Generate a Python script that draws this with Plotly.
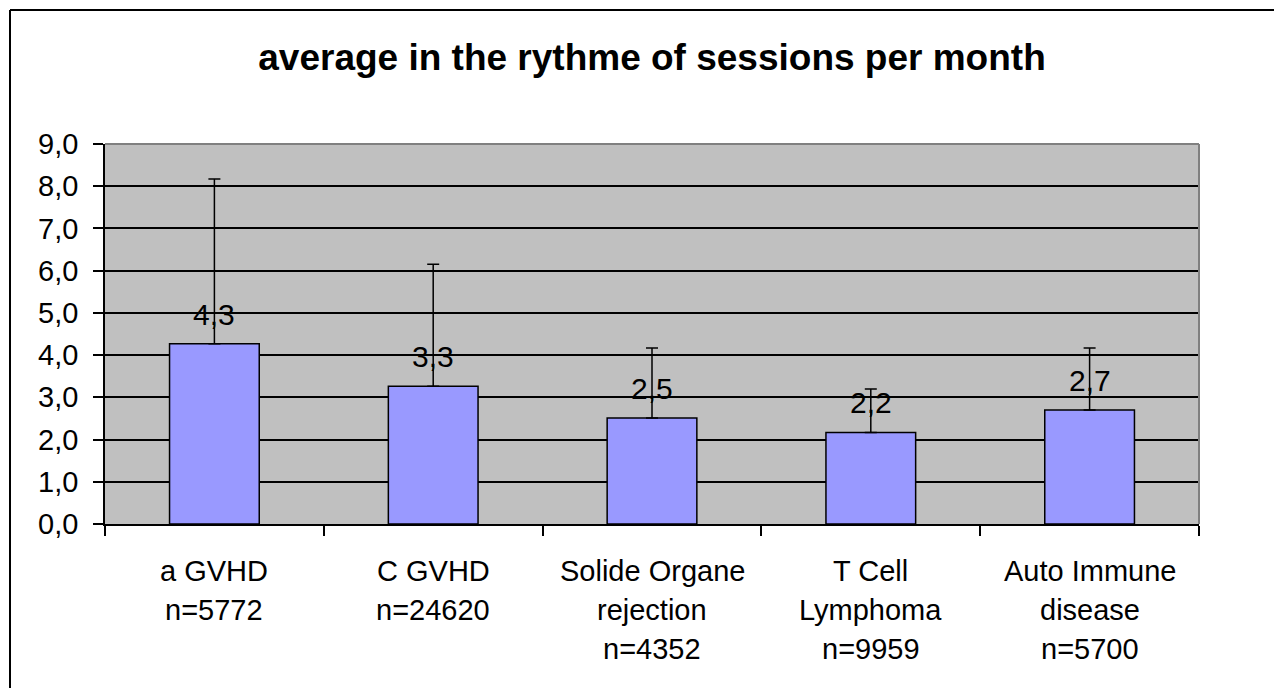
import plotly.graph_objects as go

# ---- data ----
categories = ["a GVHD", "C GVHD", "Solide Organe rejection", "T Cell Lymphoma", "Auto Immune disease"]
category_lines = [
    ["a GVHD", "n=5772"],
    ["C GVHD", "n=24620"],
    ["Solide Organe", "rejection", "n=4352"],
    ["T Cell", "Lymphoma", "n=9959"],
    ["Auto Immune", "disease", "n=5700"],
]
means = [4.27, 3.26, 2.51, 2.17, 2.70]
sd_plus = [3.90, 2.89, 1.66, 1.03, 1.47]
y_ticks = [0, 1, 2, 3, 4, 5, 6, 7, 8, 9]
title_text = "average in the rythme of sessions per month"

FONT = "Arial, Liberation Sans, sans-serif"

W, H = 1274, 688
ML, MR, MT, MB = 105, 75, 144, 164
PW, PH = W - ML - MR, H - MT - MB


def px_x(px):
    return (px - ML) / PW


def px_y(py):
    return (H - MB - py) / PH


fig = go.Figure()
fig.add_trace(go.Bar(
    x=categories,
    y=means,
    marker=dict(color="#9999FF", line=dict(color="black", width=1.5)),
    error_y=dict(type="data", symmetric=False, array=sd_plus,
                 arrayminus=[0] * len(sd_plus),
                 color="black", thickness=1.5, width=6),
    hoverinfo="skip",
))

annotations = []
# value labels
for c, v in zip(categories, means):
    annotations.append(dict(
        x=c, y=v, xref="x", yref="y", text=f"{v:.1f}".replace(".", ","),
        showarrow=False, yanchor="bottom", yshift=11,
        font=dict(family=FONT, size=30, color="black"),
    ))
# category labels, one annotation per line
for c, lines in zip(categories, category_lines):
    for i, line in enumerate(lines):
        annotations.append(dict(
            x=c, y=0, xref="x", yref="paper", text=line,
            showarrow=False, yanchor="middle", yshift=-(47 + 39 * i),
            font=dict(family=FONT, size=29, color="black"),
        ))

shapes = [
    # plot area top & right border (gray)
    dict(type="line", xref="paper", yref="paper", x0=0, x1=1, y0=1, y1=1,
         line=dict(color="#808080", width=2), layer="above"),
    dict(type="line", xref="paper", yref="paper", x0=1, x1=1, y0=0, y1=1,
         line=dict(color="#808080", width=2), layer="above"),
    # outer chart frame (top and left visible)
    dict(type="line", xref="paper", yref="paper", x0=px_x(10), x1=px_x(1300),
         y0=px_y(10), y1=px_y(10), line=dict(color="black", width=2)),
    dict(type="line", xref="paper", yref="paper", x0=px_x(10), x1=px_x(10),
         y0=px_y(10), y1=px_y(720), line=dict(color="black", width=2)),
]

fig.update_layout(
    width=W, height=H,
    margin=dict(l=ML, r=MR, t=MT, b=MB, pad=0),
    paper_bgcolor="white",
    plot_bgcolor="#C0C0C0",
    separators=",.",
    showlegend=False,
    bargap=0.59,
    title=dict(text=f"<b>{title_text}</b>", x=0.5, xanchor="center",
               xref="paper", y=1 - 57 / H, yref="container", yanchor="middle",
               font=dict(family=FONT, size=37, color="black")),
    font=dict(family=FONT, size=29, color="black"),
    annotations=annotations,
    shapes=shapes,
)
fig.update_xaxes(
    showline=True, linecolor="black", linewidth=1.5,
    ticks="outside", tickson="boundaries", ticklen=10, tickcolor="black", tickwidth=1.5,
    showticklabels=False, showgrid=False, zeroline=False,
)
fig.update_yaxes(
    range=[0, 9], tickvals=y_ticks, tickformat=".1f",
    showline=True, linecolor="black", linewidth=1.5,
    ticks="outside", ticklen=10, tickcolor="black", tickwidth=1.5,
    showgrid=True, gridcolor="black", gridwidth=1.5, zeroline=False,
    ticklabelstandoff=9,
    tickfont=dict(family=FONT, size=29, color="black"),
)

fig.write_html("out.html", config={"displayModeBar": False},
               post_script="document.body.style.margin='0';")
